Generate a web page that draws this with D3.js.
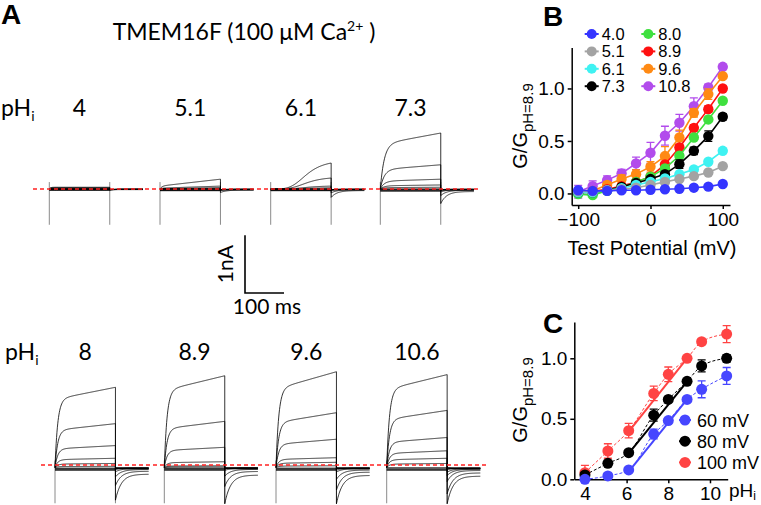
<!DOCTYPE html>
<html><head><meta charset="utf-8">
<script src="https://cdn.jsdelivr.net/npm/d3@7"></script>
<style>body{margin:0;background:#fff}svg{display:block}</style>
</head><body><svg id="c" width="761" height="505"></svg>
<script>
// ================= DATA =================
// ---- Panel A : current traces ----
const titleA = "TMEM16F (100 \u03BCM Ca";
const topPHLabels = ["4", "5.1", "6.1", "7.3"];
const botPHLabels = ["8", "8.9", "9.6", "10.6"];
const stepVoltages = [-100, -80, -60, -40, -20, 0, 20, 40, 60, 80, 100]; // mV
const pulseMs = 155, tailMs = 85;
// end-of-pulse current (nA) at each step voltage
const ampPH4    = [-0.02, -0.02, -0.015, -0.01, -0.01, 0, 0.005, 0.01, 0.015, 0.02, 0.03];
const ampPH5_1  = [-0.03, -0.025, -0.02, -0.015, -0.01, 0, 0.01, 0.015, 0.02, 0.05, 0.17];
const ampPH6_1  = [-0.03, -0.025, -0.02, -0.015, -0.01, 0, 0.01, 0.02, 0.05, 0.19, 0.45];
const ampPH7_3  = [-0.04, -0.03, -0.02, -0.015, -0.01, 0.005, 0.03, 0.07, 0.17, 0.42, 0.97];
const ampPH8    = [-0.05, -0.04, -0.03, -0.02, -0.01, 0.02, 0.07, 0.16, 0.38, 0.76, 1.39];
const ampPH8_9  = [-0.05, -0.04, -0.03, -0.02, -0.01, 0.01, 0.03, 0.10, 0.35, 0.80, 1.59];
const ampPH9_6  = [-0.05, -0.04, -0.03, -0.02, -0.01, 0.03, 0.09, 0.17, 0.49, 0.95, 1.66];
const ampPH10_6 = [-0.05, -0.04, -0.03, -0.02, 0.0, 0.07, 0.16, 0.29, 0.52, 0.99, 1.61];
// activation kinetics per panel (fast fraction, tau ms, or sigmoid)
const kinTop = [
  {fast: 1.0, tau: 3},
  {fast: 0.3, tau: 5},
  {hill: 4, t50: 93},
  {fast: 0.8, tau: 10}
];
const kinBot = [
  {fast: 0.85, tau: 7}, {fast: 0.84, tau: 7}, {fast: 0.82, tau: 7}, {fast: 0.84, tau: 7}
];
// tail currents: peak fraction, settled fraction (of end current)
const tailTop = [{peak: 0.2, settle: 0.05}, {peak: 0.3, settle: 0.08}, {peak: 0.3, settle: 0.05}, {peak: 0.25, settle: 0.04}];
const tailBot = [{peak: 0.4, settle: 0.08}, {peak: 0.4, settle: 0.08}, {peak: 0.4, settle: 0.08}, {peak: 0.45, settle: 0.09}];

// ---- Panel B : G-V ----
const ivVolt = [-100, -80, -60, -40, -20, 0, 20, 40, 60, 80, 100];
const ivNames = ["4.0", "5.1", "6.1", "7.3", "8.0", "8.9", "9.6", "10.8"];
const ivColors = ["#3535ff", "#a3a3a3", "#3ff2f2", "#000000", "#3fe03f", "#ff1010", "#ff8a14", "#b24cec"];
const g4_0  = [0.03, 0.025, 0.025, 0.03, 0.03, 0.035, 0.04, 0.045, 0.055, 0.065, 0.09];
const g5_1  = [0.02, 0.02, 0.03, 0.04, 0.055, 0.08, 0.11, 0.137, 0.165, 0.2, 0.26];
const g6_1  = [0.01, 0.01, 0.03, 0.05, 0.08, 0.11, 0.143, 0.184, 0.229, 0.302, 0.406];
const g7_3  = [0.01, 0.01, 0.03, 0.063, 0.10, 0.137, 0.184, 0.279, 0.406, 0.546, 0.73];
const g8_0  = [-0.006, -0.016, 0.025, 0.057, 0.11, 0.16, 0.238, 0.359, 0.533, 0.705, 0.883];
const g8_9  = [0.01, 0.02, 0.04, 0.07, 0.11, 0.16, 0.276, 0.438, 0.625, 0.803, 1.0];
const g9_6  = [0.01, 0.025, 0.08, 0.137, 0.184, 0.254, 0.356, 0.533, 0.768, 0.946, 1.117];
const g10_8 = [0.016, 0.07, 0.127, 0.19, 0.286, 0.387, 0.55, 0.673, 0.83, 1.01, 1.206];
const e4_0  = [0.01, 0.01, 0.01, 0.01, 0.01, 0.01, 0.01, 0.01, 0.01, 0.01, 0.01];
const e5_1  = [0.01, 0.01, 0.01, 0.01, 0.01, 0.01, 0.01, 0.01, 0.015, 0.015, 0.015];
const e6_1  = [0.01, 0.01, 0.01, 0.01, 0.01, 0.01, 0.015, 0.015, 0.015, 0.02, 0.02];
const e7_3  = [0.01, 0.01, 0.01, 0.02, 0.02, 0.02, 0.02, 0.04, 0.035, 0.05, 0.03];
const e8_0  = [0.01, 0.01, 0.01, 0.02, 0.02, 0.02, 0.02, 0.02, 0.02, 0.02, 0.02];
const e8_9  = [0.01, 0.01, 0.01, 0.02, 0.02, 0.02, 0.03, 0.03, 0.03, 0.03, 0.02];
const e9_6  = [0.02, 0.02, 0.03, 0.04, 0.04, 0.05, 0.09, 0.07, 0.04, 0.05, 0.02];
const e10_8 = [0.06, 0.05, 0.04, 0.04, 0.06, 0.10, 0.09, 0.08, 0.08, 0.03, 0.02];
const yTicksB = [0, 0.5, 1.0];
const xTicksB = [-100, 0, 100];

// ---- Panel C : G-pH ----
const phC = [4, 5.1, 6.1, 7.3, 8.0, 8.9, 9.6, 10.8];
const cNames = ["60 mV", "80 mV", "100 mV"];
const cColors = ["#4646ff", "#000000", "#ff4343"];
const gc60  = [0.0, 0.028, 0.077, 0.374, 0.485, 0.66, 0.744, 0.854];
const gc80  = [0.036, 0.132, 0.22, 0.53, 0.66, 0.81, 0.937, 1.0];
const gc100 = [0.055, 0.234, 0.402, 0.71, 0.868, 1.0, 1.137, 1.2];
const ec60  = [0.02, 0.02, 0.02, 0.04, 0.02, 0.02, 0.07, 0.07];
const ec80  = [0.02, 0.02, 0.02, 0.05, 0.02, 0.02, 0.05, 0.03];
const ec100 = [0.06, 0.06, 0.06, 0.06, 0.06, 0.0, 0.02, 0.07];
// linear fits over pH 6.1 - 8.9
const fit60  = [[6.1, 0.063], [8.9, 0.66]];
const fit80  = [[6.1, 0.215], [8.9, 0.807]];
const fit100 = [[6.1, 0.394], [8.9, 1.0]];
const xTicksC = [4, 6, 8, 10];
const yTicksC = [0, 0.5, 1.0];

// ================= DRAW =================
const svg = d3.select("#c");
svg.append("rect").attr("width", 761).attr("height", 505).attr("fill", "#fff");
const fA = "Lato, 'Open Sans', sans-serif";
const fB = "'Liberation Sans', Arial, sans-serif";

// ---------- Panel A ----------
svg.append("text").attr("x", 1).attr("y", 24).attr("font-family", fB).attr("font-weight", "bold")
  .attr("font-size", 28).text("A");
const tt = svg.append("text").attr("x", 244).attr("y", 40).attr("text-anchor", "middle")
  .attr("font-family", fA).attr("font-size", 23).text(titleA);
tt.append("tspan").attr("dy", -9).attr("font-size", 14).text("2+");
tt.append("tspan").attr("dy", 9).text(" )");

const pxPerMs = 0.39, pxPerNA = 57.7;
function shape(k, t) {
  if (k.hill) {
    const s = u => Math.pow(u, k.hill) / (Math.pow(u, k.hill) + Math.pow(k.t50, k.hill));
    return s(t) / s(pulseMs);
  }
  return k.fast * (1 - Math.exp(-t / k.tau)) + (1 - k.fast) * (t / pulseMs);
}
const times = d3.range(0, pulseMs + 0.001, 1);
const tailTimes = d3.range(0, tailMs + 0.001, 1);

function drawRow(labels, amps, kins, tails, x0s, base, redY, redX0, redX1, labelY, phX) {
  const g = svg.append("g");
  const pl = g.append("text").attr("x", phX).attr("y", labelY).attr("font-family", fA).attr("font-size", 23).text("pH");
  pl.append("tspan").attr("dy", 5).attr("font-size", 14).text("i");
  labels.forEach((lab, p) => {
    const x = d3.scaleLinear().domain([0, pulseMs + tailMs]).range([x0s[p], x0s[p] + (pulseMs + tailMs) * pxPerMs]);
    const y = d3.scaleLinear().domain([0, 1]).range([base, base - pxPerNA]);
    g.append("text").attr("x", x(pulseMs / 2)).attr("y", labelY).attr("text-anchor", "middle")
      .attr("font-family", fA).attr("font-size", 23).text(lab);
    // capacitive transients
    [0, pulseMs].forEach(t => {
      g.append("line").attr("x1", x(t)).attr("x2", x(t)).attr("y1", y(0.12)).attr("y2", y(-0.62))
        .attr("stroke", "#8a8a8a").attr("stroke-width", 1);
    });
    const line = d3.line().x(d => x(d[0])).y(d => y(d[1]));
    amps[p].forEach((A, i) => {
      const pts = times.map(t => [t, A > 0 ? A * shape(kins[p], t) : A]);
      const Ap = Math.max(A, 0);
      const pk = Math.min(0.62, tails[p].peak * Ap) + 0.01;
      const st = tails[p].settle * Ap + (A < 0 ? -A * 0.5 : 0.005);
      tailTimes.forEach(t => pts.push([pulseMs + t, -(pk - st) * Math.exp(-t / 15) - st]));
      g.append("path").attr("d", line(pts)).attr("fill", "none").attr("stroke", "#000")
        .attr("stroke-width", 0.8);
    });
  });
  g.append("line").attr("x1", redX0).attr("x2", redX1).attr("y1", redY).attr("y2", redY)
    .attr("stroke", "#f22").attr("stroke-width", 1.3).attr("stroke-dasharray", "4,3");
}
drawRow(topPHLabels, [ampPH4, ampPH5_1, ampPH6_1, ampPH7_3], kinTop, tailTop,
  [49.3, 160, 270.7, 380.3], 189, 189, 33, 480, 116, 1);
drawRow(botPHLabels, [ampPH8, ampPH8_9, ampPH9_6, ampPH10_6], kinBot, tailBot,
  [55, 164.3, 276, 386.7], 467.5, 465, 41, 487, 360, 5);

// scale bar
{
  const sx = d3.scaleLinear().domain([0, 100]).range([245, 245 + 100 * pxPerMs]);
  const sy = d3.scaleLinear().domain([0, 1]).range([293, 293 - pxPerNA]);
  svg.append("path").attr("d", `M${sx(0)},${sy(1)}V${sy(0)}H${sx(100)}`).attr("fill", "none")
    .attr("stroke", "#000").attr("stroke-width", 1.6);
  svg.append("text").attr("transform", `translate(233,${sy(0.5)}) rotate(-90)`).attr("text-anchor", "middle")
    .attr("font-family", fA).attr("font-size", 21).text("1nA");
  svg.append("text").attr("x", 267).attr("y", 314).attr("text-anchor", "middle")
    .attr("font-family", fA).attr("font-size", 21).text("100 ms");
}

// ---------- Panel B ----------
svg.append("text").attr("x", 543).attr("y", 26).attr("font-family", fB).attr("font-weight", "bold")
  .attr("font-size", 28).text("B");
const xB = d3.scaleLinear().domain([-109, 110]).range([571.7, 730]);
const yB = d3.scaleLinear().domain([-0.11, 1.39]).range([205, 47.5]);
function styleAxis(sel) {
  sel.selectAll("path.domain").attr("stroke-width", 1.5);
  sel.selectAll(".tick line").attr("stroke-width", 1.5);
  sel.selectAll("text").attr("font-family", fB).attr("font-size", 19).attr("fill", "#000");
}
svg.append("g").attr("transform", "translate(0,205)")
  .call(d3.axisBottom(xB).tickValues(xTicksB).tickSize(4).tickSizeOuter(0).tickPadding(4))
  .call(styleAxis);
svg.append("g").attr("transform", "translate(571.7,0)")
  .call(d3.axisLeft(yB).tickValues(yTicksB).tickFormat(d3.format(".1f")).tickSize(4).tickSizeOuter(0).tickPadding(3))
  .call(styleAxis);
svg.append("text").attr("x", 652).attr("y", 255).attr("text-anchor", "middle").attr("font-family", fB)
  .attr("font-size", 20).text("Test Potential (mV)");
function gLabel(cx, cy) {
  const t = svg.append("text").attr("transform", `translate(${cx},${cy}) rotate(-90)`).attr("text-anchor", "middle")
    .attr("font-family", fB).attr("font-size", 20).text("G/G");
  t.append("tspan").attr("dy", 6).attr("font-size", 15).text("pH=8.9");
}
gLabel(527, 126);

const ivVals = [g4_0, g5_1, g6_1, g7_3, g8_0, g8_9, g9_6, g10_8];
const ivErrs = [e4_0, e5_1, e6_1, e7_3, e8_0, e8_9, e9_6, e10_8];
const lineB = d3.line().x(d => xB(d[0])).y(d => yB(d[1]));
for (let s = ivNames.length - 1; s >= 0; s--) {
  const c = ivColors[s];
  const g = svg.append("g");
  const pts = ivVolt.map((v, i) => [v, ivVals[s][i]]);
  g.append("path").attr("d", lineB(pts)).attr("fill", "none").attr("stroke", c).attr("stroke-width", 1.6);
  ivVolt.forEach((v, i) => {
    const e = ivErrs[s][i], val = ivVals[s][i];
    const X = xB(v);
    g.append("path").attr("d", `M${X},${yB(val - e)}V${yB(val + e)}M${X - 4},${yB(val + e)}H${X + 4}M${X - 4},${yB(val - e)}H${X + 4}`)
      .attr("stroke", c).attr("stroke-width", 1.3).attr("fill", "none");
  });
  g.selectAll("circle").data(pts).join("circle").attr("cx", d => xB(d[0])).attr("cy", d => yB(d[1]))
    .attr("r", 5.2).attr("fill", c);
}
// legend B
ivNames.forEach((n, i) => {
  const col = i < 4 ? 0 : 1, row = i % 4;
  const x = 591.7 + col * 56.6, y = 34 + row * 17.4;
  svg.append("line").attr("x1", x - 7).attr("x2", x + 7).attr("y1", y).attr("y2", y).attr("stroke", ivColors[i]).attr("stroke-width", 2);
  svg.append("circle").attr("cx", x).attr("cy", y).attr("r", 5).attr("fill", ivColors[i]);
  svg.append("text").attr("x", x + 10).attr("y", y + 6).attr("font-family", fB).attr("font-size", 16.5).text(n);
});

// ---------- Panel C ----------
svg.append("text").attr("x", 543).attr("y", 333).attr("font-family", fB).attr("font-weight", "bold")
  .attr("font-size", 28).text("C");
const xC = d3.scaleLinear().domain([3.49, 10.85]).range([574.3, 727.7]);
const yC = d3.scaleLinear().domain([0, 1.3]).range([479.3, 322]);
svg.append("g").attr("transform", "translate(0,479.3)")
  .call(d3.axisBottom(xC).tickValues(xTicksC).tickSize(4).tickSizeOuter(0).tickPadding(3))
  .call(styleAxis);
svg.append("g").attr("transform", "translate(574.3,0)")
  .call(d3.axisLeft(yC).tickValues(yTicksC).tickFormat(d3.format(".1f")).tickSize(4).tickSizeOuter(0).tickPadding(3))
  .call(styleAxis);
{
  const t = svg.append("text").attr("x", 729).attr("y", 497).attr("font-family", fB).attr("font-size", 19).text("pH");
  t.append("tspan").attr("dy", 3).attr("font-size", 12).text("i");
}
gLabel(527, 400);

const cVals = [gc60, gc80, gc100];
const cErrs = [ec60, ec80, ec100];
const cFits = [fit60, fit80, fit100];
const lineC = d3.line().x(d => xC(d[0])).y(d => yC(d[1]));
for (let s = cNames.length - 1; s >= 0; s--) {
  const c = cColors[s];
  const g = svg.append("g");
  const pts = phC.map((p, i) => [p, cVals[s][i]]);
  g.append("path").attr("d", lineC.curve(d3.curveMonotoneX)(pts)).attr("fill", "none").attr("stroke", c)
    .attr("stroke-width", 1).attr("stroke-dasharray", "3,2");
  lineC.curve(d3.curveLinear);
  g.append("path").attr("d", lineC(cFits[s])).attr("fill", "none").attr("stroke", c).attr("stroke-width", 2);
  phC.forEach((p, i) => {
    const e = cErrs[s][i], val = cVals[s][i];
    if (e <= 0) return;
    const X = xC(p);
    g.append("path").attr("d", `M${X},${yC(val - e)}V${yC(val + e)}M${X - 4},${yC(val + e)}H${X + 4}M${X - 4},${yC(val - e)}H${X + 4}`)
      .attr("stroke", c).attr("stroke-width", 1.3).attr("fill", "none");
  });
  g.selectAll("circle").data(pts).join("circle").attr("cx", d => xC(d[0])).attr("cy", d => yC(d[1]))
    .attr("r", 5.5).attr("fill", c);
}
cNames.forEach((n, i) => {
  const x = 685, y = 420 + i * 21.2;
  svg.append("line").attr("x1", x - 6).attr("x2", x + 6).attr("y1", y).attr("y2", y).attr("stroke", cColors[i]).attr("stroke-width", 2);
  svg.append("circle").attr("cx", x).attr("cy", y).attr("r", 5.5).attr("fill", cColors[i]);
  svg.append("text").attr("x", x + 12).attr("y", y + 6.5).attr("font-family", fB).attr("font-size", 18).text(n);
});
</script></body></html>
